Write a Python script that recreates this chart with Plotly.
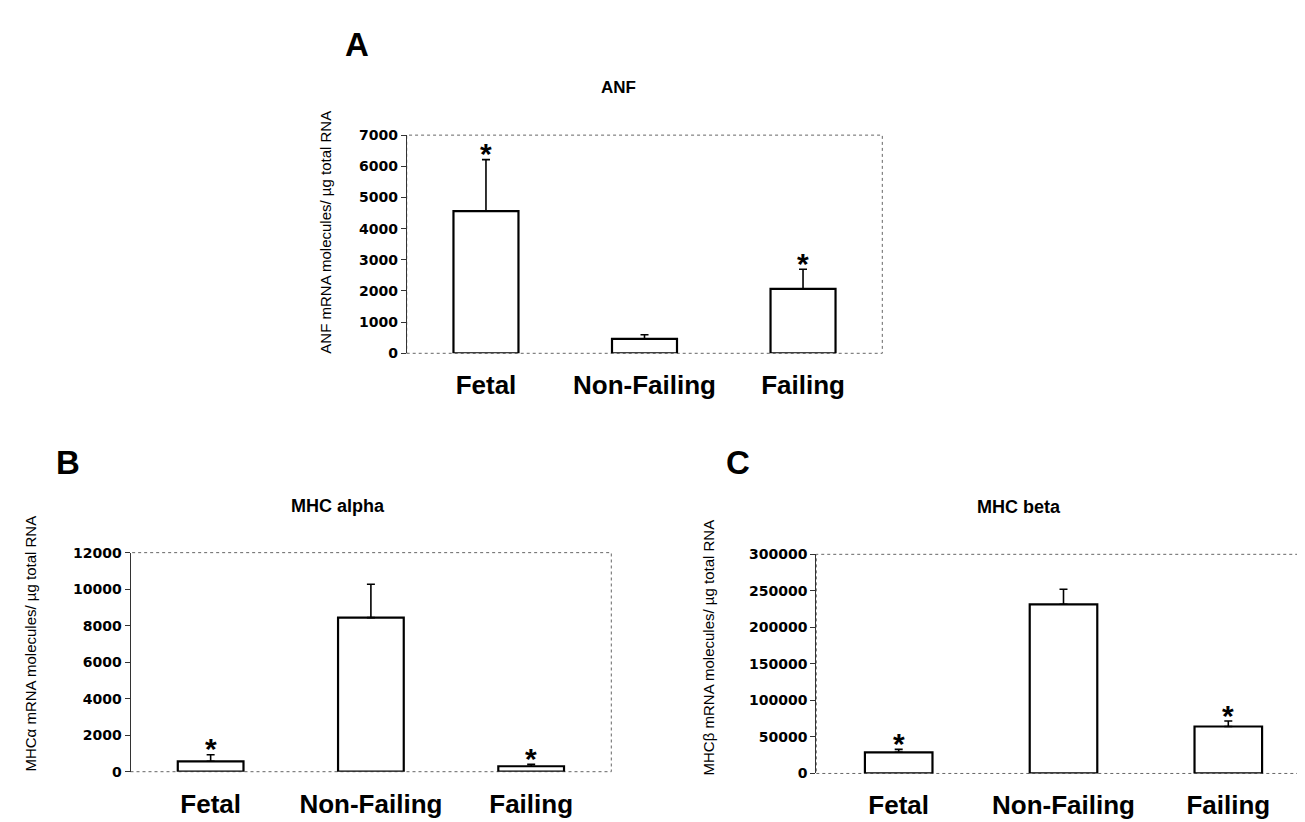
import plotly.graph_objects as go

categories = ["Fetal", "Non-Failing", "Failing"]

anf_values = [4560, 460, 2065]
anf_errors = [1655, 135, 630]
anf_signif = [True, False, True]

mhca_values = [570, 8440, 300]
mhca_errors = [360, 1830, 110]
mhca_signif = [True, False, True]

mhcb_values = [29000, 231600, 64300]
mhcb_errors = [4000, 20600, 7500]
mhcb_signif = [True, False, True]

W, H = 1305, 822


def dx(a, b):
    return [a / W, b / W]


def dy(top, bottom):
    return [1 - bottom / H, 1 - top / H]


panels = [
    dict(ax="", vals=anf_values, errs=anf_errors, sig=anf_signif, xd=dx(398.7, 874.3), yd=dy(121.5, 344),
         rng=[0, 7000], dtick=1000),
    dict(ax="2", vals=mhca_values, errs=mhca_errors, sig=mhca_signif, xd=dx(122.5, 603.3), yd=dy(547.3, 770.7),
         rng=[0, 12000], dtick=2000),
    dict(ax="3", vals=mhcb_values, errs=mhcb_errors, sig=mhcb_signif, xd=dx(808.3, 1302.7), yd=dy(549, 772.5),
         rng=[0, 300000], dtick=50000),
]

fig = go.Figure()
layout = dict(
    width=W, height=H,
    margin=dict(l=0, r=0, t=0, b=0),
    paper_bgcolor="white", plot_bgcolor="white",
    showlegend=False, bargap=0.59,
    font=dict(family="Arial", color="black"),
)
annotations = []
shapes = []

for p in panels:
    a = p["ax"]
    fig.add_trace(go.Bar(
        x=categories, y=p["vals"],
        xaxis="x" + a, yaxis="y" + a,
        marker=dict(color="white", line=dict(color="black", width=2.2)),
        error_y=dict(type="data", array=p["errs"], arrayminus=[0] * 3, symmetric=False,
                     color="black", thickness=1.6, width=4),
    ))
    layout["xaxis" + a] = dict(
        domain=p["xd"], anchor="y" + a, type="category",
        showline=False, showgrid=False, zeroline=False, ticks="",
        tickfont=dict(family="Arial", size=26, weight="bold", color="black"),
        ticklabelstandoff=14,
    )
    layout["yaxis" + a] = dict(
        domain=p["yd"], anchor="x" + a, range=p["rng"], dtick=p["dtick"], tick0=0,
        tickformat="d", showgrid=False, zeroline=False,
        showline=True, linecolor="#333", linewidth=1,
        ticks="outside", ticklen=5, tickcolor="#333",
        tickfont=dict(family="DejaVu Sans", size=14, weight="bold", color="black"),
    )
    shapes.append(dict(type="rect", xref="x" + a + " domain", yref="y" + a + " domain",
                       x0=0, x1=1, y0=0, y1=1, line=dict(color="#666", width=1, dash="dot"),
                       layer="below"))
    for c, v, e, s in zip(categories, p["vals"], p["errs"], p["sig"]):
        if s:
            annotations.append(dict(x=c, y=v + e, xref="x" + a, yref="y" + a, text="*",
                                    showarrow=False, yanchor="middle", yshift=6,
                                    font=dict(family="Arial", size=30, weight="bold", color="black")))

# panel letters and titles
texts = [
    ("A", 349, 29, 33, True, 0),
    ("B", 60, 455, 33, True, 0),
    ("C", 730, 455, 33, True, 0),
    ("ANF", 610, 73, 17, True, 0),
    ("MHC alpha", 330, 500, 18, True, 0),
    ("MHC beta", 1011, 501, 18, True, 0),
    ("ANF mRNA molecules/ µg total RNA", 318, 221, 15, False, -90),
    ("MHCα mRNA molecules/ µg total RNA", 23, 640, 15, False, -90),
    ("MHCβ mRNA molecules/ µg total RNA", 700, 644, 15, False, -90),
]
for t, x, y, size, bold, ang in texts:
    annotations.append(dict(text=t, x=x / W, y=1 - y / H, xref="paper", yref="paper",
                            xanchor="center", yanchor="middle", showarrow=False, textangle=ang,
                            font=dict(family="Arial", size=size, weight="bold" if bold else "normal",
                                      color="black")))

layout["annotations"] = annotations
layout["shapes"] = shapes
fig.update_layout(**layout)
fig.write_html("out.html")
